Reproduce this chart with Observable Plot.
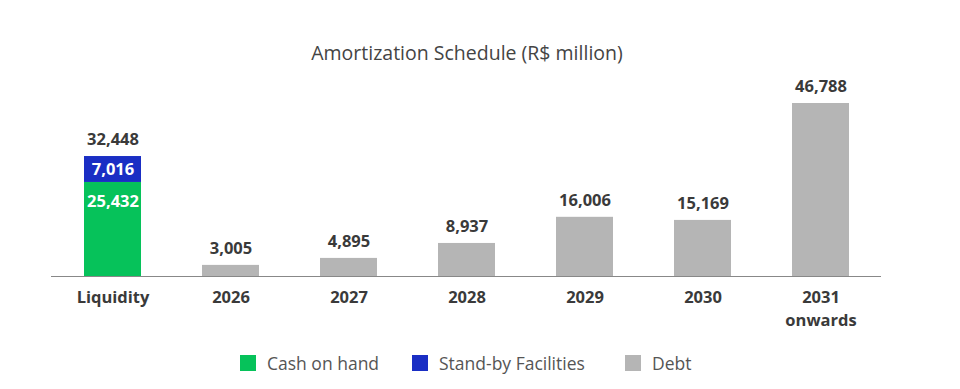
<!DOCTYPE html>
<html><head><meta charset="utf-8">
<script src="https://cdn.jsdelivr.net/npm/d3@7"></script>
<script src="https://cdn.jsdelivr.net/npm/@observablehq/plot@0.6"></script>
<style>
body{margin:0;background:#fff;font-family:"Open Sans",sans-serif;}
#wrap{position:relative;width:960px;height:389px;overflow:hidden;}
#title{position:absolute;top:39px;left:0;width:934px;text-align:center;font-size:19.5px;font-weight:500;color:#444;line-height:27px;}
#chart{position:absolute;top:0;left:0;}
#legend{position:absolute;top:354px;left:0;width:960px;font-size:17.5px;color:#555;}
.li{position:absolute;top:0;display:flex;align-items:center;height:18px;}
.sw{width:16px;height:16px;margin-right:11px;flex:none;}
</style></head>
<body><div id="wrap"><div id="title">Amortization Schedule (R$ million)</div><div id="chart"></div><div id="legend"></div></div>
<script>
const categories = ["Liquidity","2026","2027","2028","2029","2030","2031 onwards"];
const seriesNames = ["Cash on hand","Stand-by Facilities","Debt"];
const seriesColors = ["#06c25a","#1a2ec4","#b5b5b5"];
const cashOnHand = [25432];
const standBy = [7016];
const debt = [3005,4895,8937,16006,15169,46788];

const rows = [];
rows.push({category: categories[0], series: seriesNames[0], value: cashOnHand[0]});
rows.push({category: categories[0], series: seriesNames[1], value: standBy[0]});
debt.forEach((v,i)=>rows.push({category: categories[i+1], series: seriesNames[2], value: v}));
const totals = Array.from(d3.rollup(rows, g=>d3.sum(g,d=>d.value), d=>d.category), ([category,value])=>({category,value}));
const fmt = d3.format(",");
const labelFont = {fontWeight: "bold", fontSize: 16.5};

const chart = Plot.plot({
  width: 960, height: 340,
  marginLeft: 51, marginRight: 79, marginTop: 103, marginBottom: 64,
  style: {fontFamily: "'Open Sans', sans-serif", background: "transparent"},
  x: {domain: categories, paddingInner: 0.52, paddingOuter: 0.26, label: null, axis: null},
  y: {domain: [0, 46788], axis: null},
  color: {domain: seriesNames, range: seriesColors},
  marks: [
    Plot.barY(rows, {x: "category", y: "value", fill: "series"}),
    Plot.ruleY([0], {stroke: "#888", strokeWidth: 1.2}),
    Plot.axisX({tickSize: 0, tickPadding: 11, label: null, fill: "#3a3a3a", lineHeight: 1.35, ...labelFont,
      tickFormat: d => d.replace(" ", "\n")}),
    Plot.text(rows, Plot.stackY2({x:"category", y:"value", text: d=> d.series===seriesNames[1] ? fmt(d.value) : "", fill:"white", ...labelFont, dy: 13})),
    Plot.text(rows, Plot.stackY2({x:"category", y:"value", text: d=> d.series===seriesNames[0] ? fmt(d.value) : "", fill:"white", ...labelFont, dy: 19})),
    Plot.text(totals, {x:"category", y:"value", text: d=>fmt(d.value), fill:"#3a3a3a", ...labelFont, dy: -17}),
  ]
});
document.getElementById("chart").appendChild(chart);

const leg = document.getElementById("legend");
const lx = [240, 412, 625];
seriesNames.forEach((s,i)=>{
  const d = document.createElement("div"); d.className="li"; d.style.left = lx[i]+"px";
  d.innerHTML = `<span class="sw" style="background:${seriesColors[i]}"></span><span>${s}</span>`;
  leg.appendChild(d);
});
</script></body></html>
